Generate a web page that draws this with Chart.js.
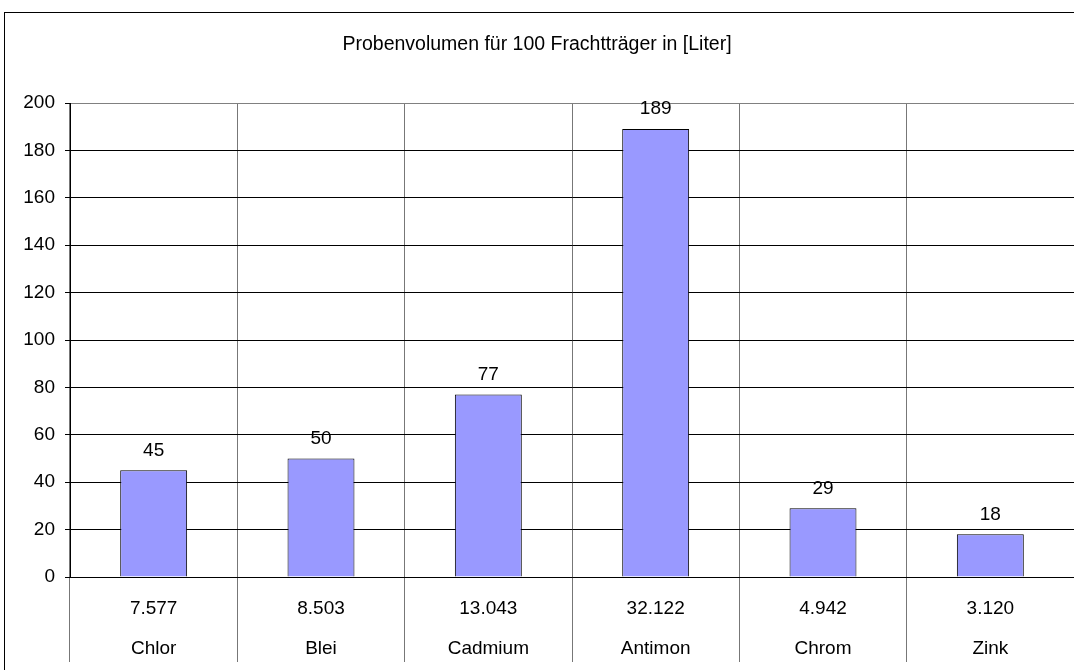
<!DOCTYPE html>
<html>
<head>
<meta charset="utf-8">
<script src="https://cdn.jsdelivr.net/npm/chart.js@4"></script>
<style>
  html, body { margin: 0; padding: 0; background: #fff; }
  canvas { display: block; }
</style>
</head>
<body>
<canvas id="c" width="1074" height="670"></canvas>
<script>
const elements = ["Chlor", "Blei", "Cadmium", "Antimon", "Chrom", "Zink"];
const secondRow = ["7.577", "8.503", "13.043", "32.122", "4.942", "3.120"];
const volumes = [45, 50, 77, 189, 29, 18];
const yTicks = [0, 20, 40, 60, 80, 100, 120, 140, 160, 180, 200];
const titleText = "Probenvolumen für 100 Frachtträger in [Liter]";

const labels = elements.map((e, i) => [secondRow[i], e]);
const FONT = "'Liberation Sans', Arial, sans-serif";

const borderPlugin = {
  id: 'outerBorder',
  beforeDraw(chart) {
    const ctx = chart.ctx;
    ctx.save();
    ctx.fillStyle = '#fff';
    ctx.fillRect(0, 0, chart.width, chart.height);
    ctx.strokeStyle = '#000';
    ctx.lineWidth = 1;
    ctx.strokeRect(4.5, 12.5, 1200, 800);
    ctx.restore();
  }
};

const valueLabels = {
  id: 'valueLabels',
  afterDatasetsDraw(chart) {
    const ctx = chart.ctx;
    ctx.save();
    ctx.font = '19px ' + FONT;
    ctx.fillStyle = '#000';
    ctx.textAlign = 'center';
    ctx.textBaseline = 'middle';
    chart.data.datasets.forEach((ds, di) => {
      chart.getDatasetMeta(di).data.forEach((bar, i) => {
        ctx.fillText(String(ds.data[i]), bar.x, bar.y - 20);
      });
    });
    ctx.restore();
  }
};

new Chart(document.getElementById('c'), {
  type: 'bar',
  data: {
    labels: labels,
    datasets: [{
      data: volumes,
      backgroundColor: '#9999FF',
      borderColor: '#000',
      borderWidth: 1,
      barPercentage: 0.4,
      categoryPercentage: 1.0
    }]
  },
  options: {
    responsive: false,
    animation: false,
    devicePixelRatio: 1,
    layout: { padding: { left: 0, right: 0, top: 0, bottom: 0 } },
    plugins: {
      legend: { display: false },
      tooltip: { enabled: false },
      title: {
        display: true,
        text: titleText,
        color: '#000',
        font: { family: FONT, size: 19.5, weight: 'normal', lineHeight: 1.2 },
        padding: { top: 33, bottom: 46.6 }
      }
    },
    scales: {
      x: {
        offset: true,
        grid: {
          display: true,
          offset: true,
          color: '#777',
          lineWidth: 1,
          drawTicks: true,
          tickLength: 85,
          tickColor: '#777'
        },
        border: { display: true, color: '#000', width: 1 },
        ticks: {
          color: '#000',
          font: { family: FONT, size: 19, lineHeight: 2.13 },
          padding: -73.75,
          maxRotation: 0,
          minRotation: 0,
          autoSkip: false
        },
        afterFit(scale) { scale.height = 93; }
      },
      y: {
        min: 0,
        max: 200,
        afterBuildTicks(scale) { scale.ticks = yTicks.map(v => ({ value: v })); },
        grid: {
          color: (c) => (c.tick && c.tick.value === 200) ? '#808080' : '#000',
          lineWidth: 1,
          drawTicks: true,
          tickLength: 5,
          tickColor: '#000'
        },
        border: { display: true, color: '#000', width: 1 },
        ticks: {
          color: '#000',
          font: { family: FONT, size: 19 },
          padding: 10
        },
        afterFit(scale) { scale.width = 70; }
      }
    }
  },
  plugins: [borderPlugin, valueLabels]
});
</script>
</body>
</html>
